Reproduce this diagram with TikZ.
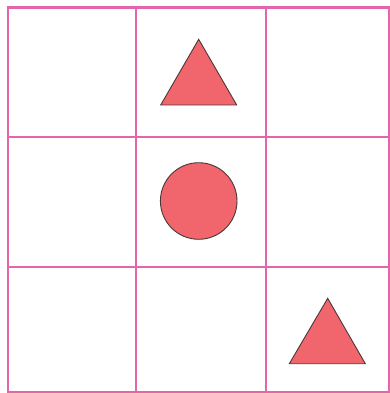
\documentclass[tikz,border=0pt]{standalone}
\usepackage{tikz}
\definecolor{gridpink}{HTML}{E366AC}
\definecolor{shapered}{HTML}{F1666C}
\definecolor{edge}{HTML}{4A3838}
\begin{document}
\begin{tikzpicture}[x=1pt,y=-1pt,
  gridline/.style={draw=gridpink,line width=2.6pt},
  shapefill/.style={fill=shapered,draw=edge,line width=0.9pt,line join=miter}]
\useasboundingbox (0,0) rectangle (390,393);
\fill[white] (0,0) rectangle (390,393);
% grid
\foreach \x in {8,136,266,389.5} \draw[gridline] (\x,6.2) -- (\x,393);
\foreach \y in {7.5,137,267,392} \draw[gridline] (6.7,\y) -- (390,\y);
% shapes
\coordinate (t1a) at (198.7,39.3);
\coordinate (t1b) at (160.7,105);
\coordinate (t1c) at (236.7,105);
\draw[shapefill] (t1a) -- (t1b) -- (t1c) -- cycle;
\node[circle,shapefill,minimum size=76.6pt,inner sep=0pt] (c) at (198.7,201) {};
\coordinate (t2a) at (327.7,298.3);
\coordinate (t2b) at (289.3,363.7);
\coordinate (t2c) at (365.3,363.7);
\draw[shapefill] (t2a) -- (t2b) -- (t2c) -- cycle;
\end{tikzpicture}
\end{document}
